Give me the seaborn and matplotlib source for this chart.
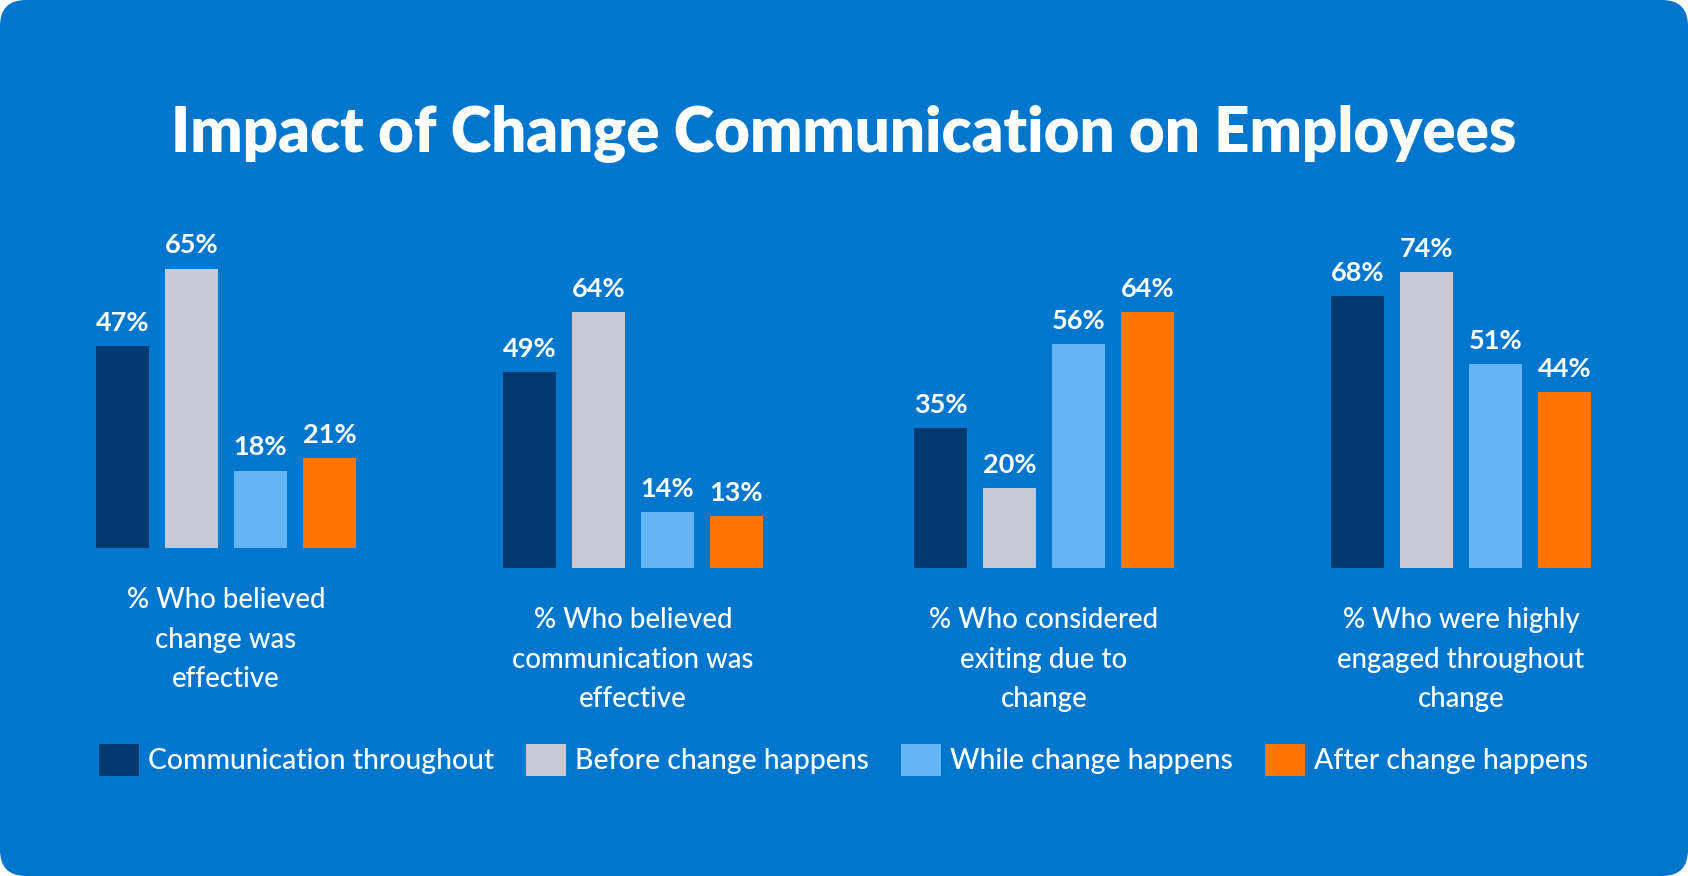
import matplotlib
matplotlib.use("Agg")
import matplotlib.pyplot as plt
from matplotlib.patches import FancyBboxPatch, Patch
from matplotlib.transforms import IdentityTransform
import seaborn as sns
import pandas as pd

# ---- data ----
categories = [
    "% Who believed\nchange was\neffective",
    "% Who believed\ncommunication was\neffective",
    "% Who considered\nexiting due to\nchange",
    "% Who were highly\nengaged throughout\nchange",
]
series = ["Communication throughout", "Before change happens",
          "While change happens", "After change happens"]
comm_throughout = [47, 49, 35, 68]
before_change = [65, 64, 20, 74]
while_change = [18, 14, 56, 51]
after_change = [21, 13, 64, 44]
title = "Impact of Change Communication on Employees"

colors = ["#003A70", "#C8C9D4", "#63B5F3", "#FF7500"]
BG = "#0077CD"
FONT = "Lato"

sns.set_theme(style="white")
plt.rcParams["font.family"] = [FONT, "DejaVu Sans"]

W, H = 1688, 876
fig = plt.figure(figsize=(W / 100, H / 100), dpi=100, facecolor="white")
bg = FancyBboxPatch((0, 0), W, H, boxstyle="round,pad=0,rounding_size=26",
                    transform=IdentityTransform(), facecolor=BG, edgecolor="none",
                    zorder=-10)
fig.patches.append(bg)

df = pd.DataFrame({
    "category": [c for c in categories for _ in series],
    "series": series * len(categories),
    "value": [v for i in range(len(categories)) for v in
              (comm_throughout[i], before_change[i], while_change[i], after_change[i])],
})

# axes geometry in pixels: (center x, baseline y, px per %)
geo = [(226, 548, 4.3), (633, 568, 4.0), (1044, 568, 4.0), (1461, 568, 4.0)]
axw = 276
ytop = 85
for (cx, base, ppp), cat in zip(geo, categories):
    axh = ytop * ppp
    ax = fig.add_axes([(cx - axw / 2) / W, (H - base) / H, axw / W, axh / H])
    ax.set_facecolor("none")
    sub = df[df["category"] == cat]
    sns.barplot(data=sub, x="series", y="value", hue="series", palette=colors,
                hue_order=series, order=series, width=0.78, saturation=1,
                linewidth=0, edgecolor="none", legend=False, ax=ax)
    ax.set_ylim(0, ytop)
    ax.set_xlim(-0.5, 3.5)
    for c in ax.containers:
        ax.bar_label(c, fmt="%d%%", padding=8, color="white", fontsize=19.5,
                     fontweight="bold")
    ax.set_xticks([])
    ax.set_yticks([])
    ax.set_ylabel("")
    ax.set_xlabel(cat, color="white", fontsize=19.8, fontweight="medium",
                  linespacing=1.65, labelpad=28)
    for s in ax.spines.values():
        s.set_visible(False)

# title fitted to width
t = fig.text(0.5, 1 - 152 / H, title, ha="center", va="baseline",
             color="white", fontsize=40, fontweight="heavy")
r = fig.canvas.get_renderer()
wpx = t.get_window_extent(r).width
t.set_fontsize(40 * 1344 / wpx)

handles = [Patch(facecolor=c, edgecolor="none") for c in colors]
fs = 20.4
fspx = fs * 100 / 72
leg = fig.legend(handles, series, loc="center", bbox_to_anchor=(0.4997, 1 - 760 / H),
                 ncol=4, frameon=False, handlelength=40 / fspx,
                 handleheight=40 / fspx, handletextpad=9 / fspx,
                 columnspacing=32 / fspx, borderpad=0, borderaxespad=0,
                 prop={"family": [FONT, "DejaVu Sans"], "weight": "medium", "size": fs})
for txt in leg.get_texts():
    txt.set_color("white")

fig.savefig("out.png", dpi=100, facecolor="white")
